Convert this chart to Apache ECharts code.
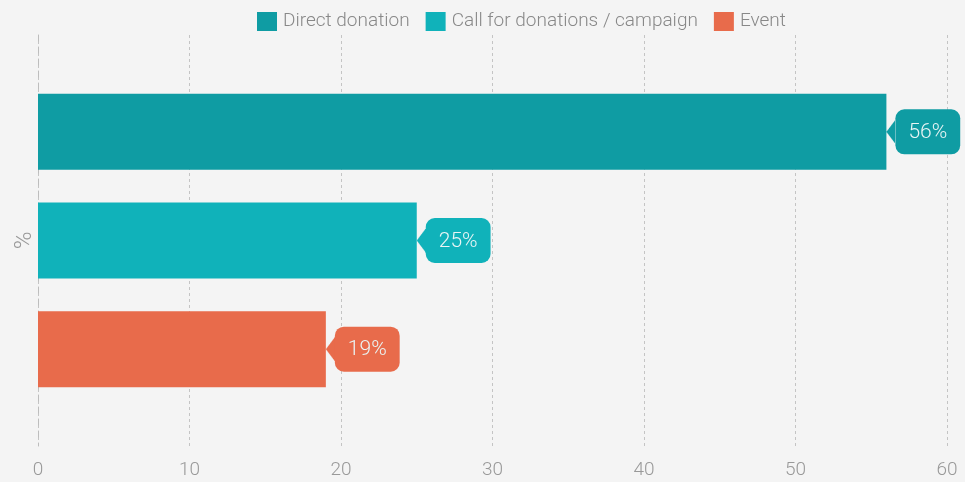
<!DOCTYPE html>
<html>
<head>
<meta charset="utf-8">
<script src="https://cdn.jsdelivr.net/npm/echarts@6/dist/echarts.min.js"></script>
<style>html,body{margin:0;padding:0;background:#f4f4f4;}#c{width:965px;height:482px;}</style>
</head>
<body>
<div id="c"></div>
<script>
const categories = ['%'];
const seriesNames = ['Direct donation', 'Call for donations / campaign', 'Event'];
const seriesValues = [[56], [25], [19]];
const seriesColors = ['#0f9ca3', '#10b2ba', '#e86b4b'];
const xTicks = { min: 0, max: 60, interval: 10 };

function arrowImg(color) {
  const c = document.createElement('canvas');
  c.width = 16; c.height = 32;
  const ctx = c.getContext('2d');
  ctx.fillStyle = color;
  ctx.beginPath();
  ctx.moveTo(0, 16);
  ctx.lineTo(16, 0);
  ctx.lineTo(16, 32);
  ctx.closePath();
  ctx.fill();
  return c;
}

const chart = echarts.init(document.getElementById('c'));
const series = seriesNames.map((name, i) => ({
  name: name,
  type: 'bar',
  data: seriesValues[i],
  barWidth: 76,
  barGap: '43%',
  itemStyle: { color: seriesColors[i] },
  label: {
    show: true,
    position: 'right',
    distance: 0,
    formatter: function (p) { return '{a|}{b|' + p.value + '%}'; },
    rich: {
      a: { width: 9, height: 24, backgroundColor: { image: arrowImg(seriesColors[i]) } },
      b: {
        backgroundColor: seriesColors[i],
        borderRadius: 9,
        padding: [13, 13, 11, 13],
        lineHeight: 25,
        fontSize: 21,
        fontFamily: 'Roboto',
        fontWeight: 300,
        color: '#e9f5f5'
      }
    }
  }
}));

chart.setOption({
  backgroundColor: '#f4f4f4',
  animation: false,
  legend: {
    top: 7,
    left: 252,
    itemWidth: 20,
    itemHeight: 19,
    itemGap: 16,
    icon: 'rect',
    textStyle: { color: '#888', fontSize: 19, fontFamily: 'Roboto', fontWeight: 300, padding: [0, 0, 0, 1] },
    data: seriesNames
  },
  grid: { left: 38, right: 18, top: 35, bottom: 36 },
  xAxis: {
    type: 'value',
    min: xTicks.min, max: xTicks.max, interval: xTicks.interval,
    axisLine: { show: false },
    axisTick: { show: false },
    axisLabel: { color: '#999', fontSize: 19, fontFamily: 'Roboto', fontWeight: 300, margin: 15 },
    splitLine: { lineStyle: { color: '#c4c4c4', type: [3, 3], width: 1 } }
  },
  yAxis: {
    type: 'category',
    data: categories,
    inverse: true,
    name: '%',
    nameLocation: 'middle',
    nameGap: 1,
    nameTextStyle: { color: '#999', fontSize: 24, fontFamily: 'Roboto', fontWeight: 300 },
    axisLine: { show: true, lineStyle: { color: '#bdbdbd', type: [6, 6] } },
    axisTick: { show: false },
    axisLabel: { show: false },
    splitLine: { show: false }
  },
  series: series
});
</script>
</body>
</html>
